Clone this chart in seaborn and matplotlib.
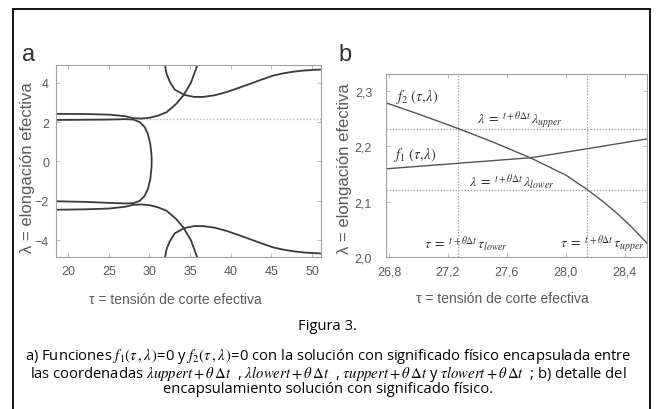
import matplotlib
matplotlib.use("Agg")
import matplotlib.pyplot as plt
from matplotlib.lines import Line2D
import seaborn as sns
import pandas as pd

# ---------------- data: panel a ----------------
a_xticks = [20, 25, 30, 35, 40, 45, 50]
a_yticks = [-4, -2, 0, 2, 4]

# upper branch rising to the top (f1 upper)
a_up_tau = [18.5, 22, 25, 27, 28, 29, 30, 31, 32.1, 33.3, 34.2, 35.1, 35.9]
a_up_lam = [2.42, 2.41, 2.38, 2.3, 2.2, 2.18, 2.22, 2.32, 2.5, 2.93, 3.37, 4.0, 4.9]
# lower branch falling to the bottom
a_lo_tau = [18.5, 22, 25, 27, 28, 29, 30, 31, 32.1, 33.3, 34.2, 35.1, 35.9]
a_lo_lam = [-2.45, -2.43, -2.39, -2.3, -2.2, -2.18, -2.22, -2.32, -2.5, -2.93, -3.37, -4.0, -4.9]
# closed "C" curve through lambda = 0
a_c_tau = [18.5, 22, 25, 27, 28, 28.8, 29.4, 29.8, 30.1, 30.25, 30.27,
           30.25, 30.1, 29.8, 29.4, 28.8, 28, 27, 25, 22, 18.5]
a_c_lam = [2.11, 2.12, 2.13, 2.15, 2.13, 2.0, 1.75, 1.4, 0.9, 0.3, 0.0,
           -0.3, -0.9, -1.4, -1.75, -2.0, -2.12, -2.13, -2.1, -2.05, -2.02]
# U-shaped curve hanging from the top
a_u_tau = [31.9, 32.1, 32.5, 33.1, 34.3, 35.5, 36.6, 38.0, 39.6, 41.0, 42.4,
           43.8, 45.2, 46.5, 47.7, 49.0, 50.6, 51.1]
a_u_lam = [4.9, 4.45, 4.05, 3.65, 3.38, 3.28, 3.28, 3.36, 3.54, 3.74, 3.95,
           4.16, 4.36, 4.48, 4.56, 4.62, 4.66, 4.67]
# mirrored curve rising from the bottom
a_d_tau = [31.9, 32.1, 32.5, 33.1, 34.3, 35.5, 36.6, 38.0, 39.6, 41.0, 42.4,
           43.8, 45.2, 46.5, 47.7, 49.0, 50.6, 51.1]
a_d_lam = [-4.9, -4.45, -4.05, -3.65, -3.38, -3.28, -3.28, -3.36, -3.54, -3.74, -3.95,
           -4.16, -4.36, -4.48, -4.56, -4.62, -4.66, -4.67]
a_dotted_lam = 2.17

# ---------------- data: panel b ----------------
b_xticks = [26.8, 27.2, 27.6, 28.0, 28.4]
b_xlabels = ["26,8", "27,2", "27,6", "28,0", "28,4"]
b_yticks = [2.0, 2.1, 2.2, 2.3]
b_ylabels = ["2,0", "2,1", "2,2", "2,3"]

b_f1_tau = [26.78, 27.27, 27.76, 28.14, 28.55]
b_f1_lam = [2.159, 2.169, 2.179, 2.195, 2.213]
b_f2_tau = [26.78, 27.0, 27.27, 27.5, 27.76, 28.0, 28.14, 28.25, 28.35, 28.45, 28.55]
b_f2_lam = [2.278, 2.2578, 2.2316, 2.2079, 2.1788, 2.1476, 2.1224, 2.1004,
            2.0779, 2.0529, 2.0249]
b_hlines = [2.12, 2.23]
b_vlines = [27.27, 28.14]

# ---------------- style ----------------
sns.set_theme(style="white")
plt.rcParams["font.family"] = ["Liberation Sans", "DejaVu Sans"]
plt.rcParams["mathtext.fontset"] = "stix"

TICK_C = "#5a5a5a"
SPINE_C = "#a0a0a0"

fig = plt.figure(figsize=(6.56, 4.10), dpi=100)
axa = fig.add_axes([56 / 656, 1 - 258 / 410, 265 / 656, 192 / 410])
axb = fig.add_axes([386 / 656, 1 - 258 / 410, 261 / 656, 183 / 410])


def style_axis(ax):
    for s in ax.spines.values():
        s.set_color(SPINE_C)
        s.set_linewidth(0.8)
    ax.tick_params(direction="in", length=3, width=0.6, color="#b0b0b0",
                   top=True, right=True, labelsize=9, labelcolor=TICK_C,
                   bottom=True, left=True)


# panel a
line_a = dict(color="#3a3a3a", linewidth=1.3, sort=False, estimator=None, legend=False)
axa.plot([18.5, 51.1], [a_dotted_lam, a_dotted_lam], color="#c4c4c4",
         linestyle=(0, (1.2, 1.2)), linewidth=1.0)
for tx, ly in [(a_up_tau, a_up_lam), (a_lo_tau, a_lo_lam), (a_c_tau, a_c_lam),
               (a_u_tau, a_u_lam), (a_d_tau, a_d_lam)]:
    sns.lineplot(x=tx, y=ly, ax=axa, **line_a)
axa.set_xlim(18.5, 51.1)
axa.set_ylim(-4.85, 4.9)
axa.set_xticks(a_xticks)
axa.set_yticks(a_yticks)
axa.set_yticklabels(["\u22124", "\u22122", "0", "2", "4"])
style_axis(axa)
axa.tick_params(axis="x", pad=6)
axa.tick_params(axis="y", pad=5)
axa.set_xlabel("\u03c4 = tensión de corte efectiva", fontsize=10, color=TICK_C)
axa.set_ylabel("\u03bb = elongación efectiva", fontsize=12, color=TICK_C)
axa.xaxis.set_label_coords(0.45, -0.18)
axa.yaxis.set_label_coords(-0.08, 0.47)

# panel b
line_b = dict(color="#555555", linewidth=1.0, sort=False, estimator=None, legend=False)
for h in b_hlines:
    axb.axhline(h, color="#a8a8a8", linestyle=(0, (1.2, 1.2)), linewidth=0.9)
for v in b_vlines:
    axb.axvline(v, color="#a8a8a8", linestyle=(0, (1.2, 1.2)), linewidth=0.9)
sns.lineplot(x=b_f1_tau, y=b_f1_lam, ax=axb, **line_b)
sns.lineplot(x=b_f2_tau, y=b_f2_lam, ax=axb, **line_b)
axb.set_xlim(26.78, 28.55)
axb.set_ylim(2.0, 2.33)
axb.set_xticks(b_xticks)
axb.set_xticklabels(b_xlabels)
axb.set_yticks(b_yticks)
axb.set_yticklabels(b_ylabels)
style_axis(axb)
axb.tick_params(axis="x", pad=6)
axb.tick_params(axis="y", pad=10)
axb.set_xlabel("\u03c4 = tensión de corte efectiva", fontsize=10, color=TICK_C)
axb.set_ylabel("\u03bb = elongación efectiva", fontsize=12, color=TICK_C)
axb.xaxis.set_label_coords(0.445, -0.188)
axb.yaxis.set_label_coords(-0.13, 0.49)

ann = dict(fontsize=10, color="#333333", va="center", ha="left")
axb.text(26.84, 2.29, r"$f_2\ (\tau,\!\lambda)$", fontsize=10.5, color="#333333", va="center", ha="left")
axb.text(26.83, 2.185, r"$f_1\ (\tau,\!\lambda)$", fontsize=10.5, color="#333333", va="center", ha="left")
axb.text(27.40, 2.249, r"$\lambda\;=\;{}^{t+\theta\Delta t}\,\lambda_{upper}$", **ann)
axb.text(27.34, 2.137, r"$\lambda\;=\;{}^{t+\theta\Delta t}\,\lambda_{lower}$", **ann)
axb.text(27.04, 2.024, r"$\tau\;=\;{}^{t+\theta\Delta t}\,\tau_{lower}$", **ann)
axb.text(27.96, 2.024, r"$\tau\;=\;{}^{t+\theta\Delta t}\,\tau_{upper}$", **ann)

# panel letters
fig.text(29 / 656, 1 - 55 / 410, "a", fontsize=17, color="#333333", ha="center", va="center")
fig.text(345 / 656, 1 - 55 / 410, "b", fontsize=17, color="#333333", ha="center", va="center")

# caption
cap = dict(ha="center", color="black", family=["Open Sans", "DejaVu Sans"])
fig.text(328 / 656, 1 - 327 / 410, "Figura 3.", va="center", fontsize=10.6, **cap)
caption_lines = [
    r"a) Funciones $f_1(\tau\,,\lambda\,)$=0 y $f_2(\tau\,,\lambda\,)$=0 con la solución con significado físico encapsulada entre",
    r"las coordenadas $\lambda uppert+\theta\,\Delta t$  , $\lambda lowert+\theta\,\Delta t$  , "
    r"$\tau uppert+\theta\,\Delta t$ y $\tau lowert+\theta\,\Delta t$  ; b) detalle del",
    "encapsulamiento solución con significado físico.",
]
fig.text(328 / 656, 1 - 347 / 410, "\n".join(caption_lines), va="top", fontsize=10.6,
         linespacing=0.86, multialignment="center", **cap)

# outer frame (left, top, right)
L, R, T = 12.5 / 656, 650 / 656, 1 - 10 / 410
for xs, ys in [([L, L], [0, T]), ([L, R], [T, T]), ([R, R], [T, 0])]:
    fig.add_artist(Line2D(xs, ys, transform=fig.transFigure, color="black", linewidth=1.3))

fig.savefig("out.png", dpi=100)
